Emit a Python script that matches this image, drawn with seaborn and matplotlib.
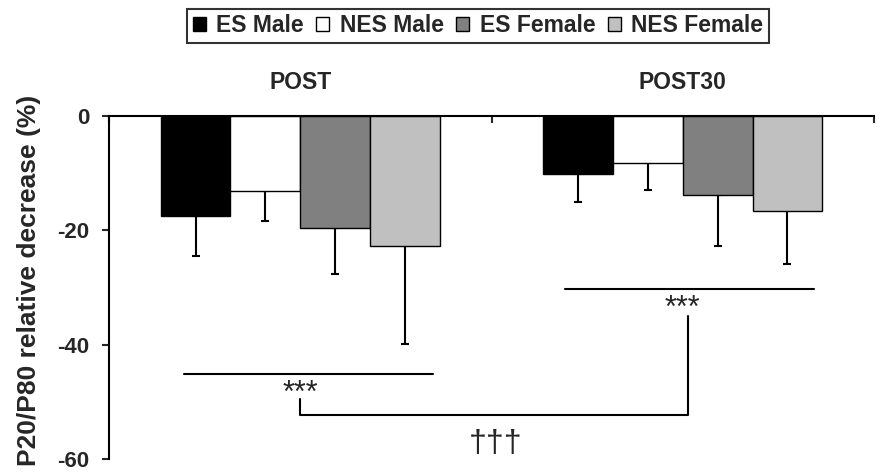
import matplotlib
matplotlib.use('Agg')
import matplotlib.pyplot as plt
import seaborn as sns
import pandas as pd
from matplotlib.patches import Patch

# data
phases = ['POST', 'POST30']
groups = ['ES Male', 'NES Male', 'ES Female', 'NES Female']
colors = ['#000000', '#ffffff', '#808080', '#c0c0c0']
mean_post = [-17.5, -13.1, -19.6, -22.7]
mean_post30 = [-10.2, -8.2, -13.8, -16.7]
sd_post = [7.0, 5.2, 8.1, 17.1]
sd_post30 = [4.9, 4.8, 9.0, 9.2]
y_ticks = [0, -20, -40, -60]

sns.set_style('white')
plt.rcParams['font.family'] = ['Liberation Sans', 'DejaVu Sans']

df = pd.DataFrame({
    'phase': [p for p in phases for g in groups],
    'group': groups * 2,
    'value': mean_post + mean_post30,
})
sd_by_group = [[a, b] for a, b in zip(sd_post, sd_post30)]

fig = plt.figure(figsize=(8.81, 4.73), dpi=100)
ax = fig.add_axes([109 / 881, 1 - 459 / 473, (874 - 109) / 881, (459 - 116) / 473])

sns.barplot(data=df, x='phase', y='value', hue='group', order=phases,
            hue_order=groups, palette=colors, saturation=1, width=0.73,
            gap=0, edgecolor='black', linewidth=1, errorbar=None,
            legend=False, ax=ax)

# one-sided (downward) error bars
for cont, sds in zip(ax.containers, sd_by_group):
    for bar, sd in zip(cont, sds):
        xc = bar.get_x() + bar.get_width() / 2
        ax.errorbar(xc, bar.get_height(), yerr=[[sd], [0]], fmt='none',
                    ecolor='black', elinewidth=1.5, capsize=3, capthick=1.5,
                    zorder=0.5)

ax.set_xlim(-0.5, 1.5)
ax.set_ylim(-60, 0)

# category axis sits on top at y=0
ax.xaxis.tick_top()
ax.set_xticks([0, 1])
ax.set_xticklabels(phases, fontsize=16.5, fontweight='bold')
ax.set_xticks([-0.5, 0.5, 1.5], minor=True)
ax.tick_params(axis='x', which='major', length=0, pad=16)
ax.tick_params(axis='x', which='minor', direction='in', length=5, width=1.5,
               top=True, bottom=False)
ax.set_xlabel('')

ax.set_yticks(y_ticks)
ax.set_yticklabels([str(t) for t in y_ticks], fontsize=16, fontweight='bold')
ax.tick_params(axis='y', direction='out', length=5, width=1.5, pad=9, left=True)
ax.set_ylabel('P20/P80 relative decrease (%)', fontsize=19, fontweight='bold',
              va='center')
ax.yaxis.set_label_coords(-0.105, 0.522)

for s in ['right', 'bottom']:
    ax.spines[s].set_visible(False)
for s in ['left', 'top']:
    ax.spines[s].set_linewidth(1.5)
    ax.spines[s].set_color('black')

# significance marks
ax.plot([-0.305, 0.347], [-45.1, -45.1], color='black', lw=1.5)
ax.text(0.0, -46.0, '***', ha='center', va='top', fontsize=22)
ax.plot([0.692, 1.343], [-30.3, -30.3], color='black', lw=1.5)
ax.text(0.998, -31.1, '***', ha='center', va='top', fontsize=22)
ax.plot([0.0, 0.0, 1.015, 1.015], [-49.5, -52.3, -52.3, -35.0],
        color='black', lw=1.5)
ax.text(0.51, -54.7, '\u2020\u2020\u2020', ha='center', va='top', fontsize=23)

handles = [Patch(facecolor=c, edgecolor='black', linewidth=1) for c in colors]
leg = fig.legend(handles, groups, loc='center', ncol=4,
                 bbox_to_anchor=(478 / 881, 1 - 26 / 473),
                 prop={'size': 16.5, 'weight': 'bold'}, frameon=True,
                 fancybox=False, handlelength=0.57, handleheight=0.57,
                 handletextpad=0.45, columnspacing=0.55, borderpad=0.25,
                 borderaxespad=0)
leg.get_frame().set_edgecolor('black')
leg.get_frame().set_linewidth(1.5)

fig.savefig('out.png', dpi=100)
